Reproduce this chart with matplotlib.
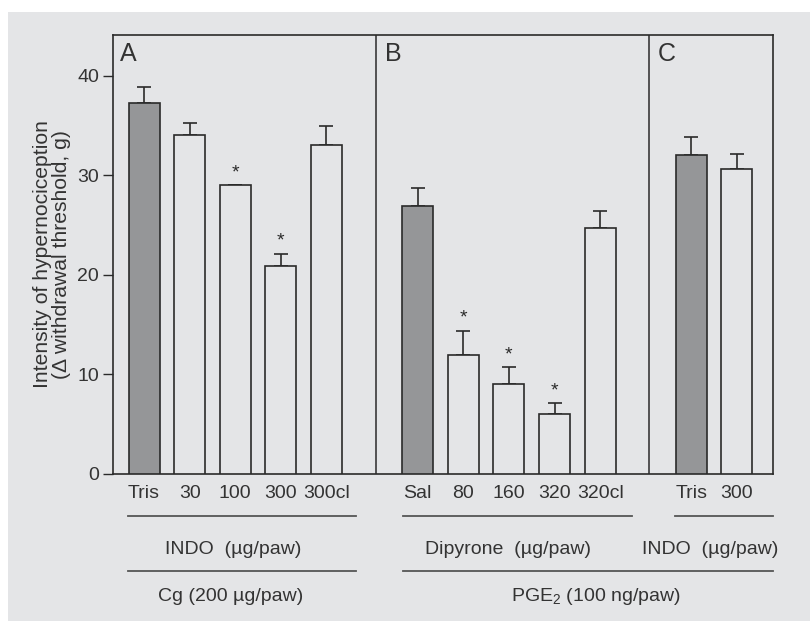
import numpy as np
import matplotlib
matplotlib.use('Agg')
import matplotlib.pyplot as plt
from matplotlib.patches import Rectangle

plt.rcParams['font.family'] = ['Liberation Sans', 'DejaVu Sans']
plt.rcParams['mathtext.fontset'] = 'custom'
plt.rcParams['mathtext.rm'] = 'Liberation Sans'
plt.rcParams['text.color'] = '#333333'

# Datos
etiquetas_a = ['Tris', '30', '100', '300', '300cl']
medias_a = [37.3, 34.1, 29.0, 20.9, 33.1]
errores_a = [1.6, 1.2, 0.0, 1.2, 1.9]
control_a = [True, False, False, False, False]
signif_a = [False, False, True, True, False]

etiquetas_b = ['Sal', '80', '160', '320', '320cl']
medias_b = [26.9, 12.0, 9.0, 6.0, 24.7]
errores_b = [1.8, 2.4, 1.7, 1.1, 1.7]
control_b = [True, False, False, False, False]
signif_b = [False, True, True, True, False]

etiquetas_c = ['Tris', '300']
medias_c = [32.0, 30.6]
errores_c = [1.9, 1.5]
control_c = [True, False]
signif_c = [False, False]

fondo = '#e4e5e7'
gris = '#959698'
negro = '#2a2a2a'

fig = plt.figure(figsize=(8.1, 6.21), dpi=100, facecolor='white')
fig.patches.append(Rectangle((8 / 810, 0), 1, 1 - 12 / 621, transform=fig.transFigure,
                             facecolor=fondo, edgecolor='none', zorder=-10))
ax = fig.add_axes([113 / 810, 147 / 621, 660 / 810, 439 / 621])
ax.set_facecolor(fondo)

pos_a = np.arange(0, 5)
pos_b = np.arange(6, 11)
pos_c = np.arange(12, 14)

posiciones = np.concatenate([pos_a, pos_b, pos_c])
medias = medias_a + medias_b + medias_c
errores = errores_a + errores_b + errores_c
control = control_a + control_b + control_c
signif = signif_a + signif_b + signif_c
etiquetas = etiquetas_a + etiquetas_b + etiquetas_c

colores = [gris if c else fondo for c in control]
ax.bar(posiciones, medias, width=0.68, color=colores, edgecolor=negro, linewidth=1.2, zorder=3)
ax.errorbar(posiciones, medias, yerr=[np.zeros(len(errores)), errores], fmt='none',
            ecolor=negro, elinewidth=1.2, capsize=5, capthick=1.2, zorder=2)

for x, m, e, s in zip(posiciones, medias, errores, signif):
    if s:
        ax.annotate('*', (x, m + e), xytext=(0, 3), textcoords='offset points',
                    ha='center', va='bottom', fontsize=14, color=negro)

ax.set_xlim(-0.68, 13.79)
ax.set_ylim(0, 44.1)
ax.set_yticks([0, 10, 20, 30, 40])
ax.set_xticks(posiciones)
ax.set_xticklabels(etiquetas)
ax.tick_params(axis='x', length=0, pad=8, labelsize=14, labelcolor='#333333')
ax.tick_params(axis='y', length=7, width=1, direction='out', pad=3, labelsize=14,
               labelcolor='#333333', color=negro)
for sp in ax.spines.values():
    sp.set_color(negro)
    sp.set_linewidth(1.2)

# separadores de paneles
for xd in [5.09, 11.07]:
    ax.axvline(xd, color=negro, linewidth=1.1, zorder=1)

tr = ax.get_xaxis_transform()
for letra, xl in zip(['A', 'B', 'C'], [-0.52, 5.28, 11.27]):
    ax.text(xl, 0.985, letra, transform=tr, ha='left', va='top', fontsize=18, color='#333333')

# lineas y textos inferiores
def linea(x0, x1, y):
    ax.plot([x0, x1], [y, y], transform=tr, color='#555555', linewidth=1.3, clip_on=False)

linea(-0.35, 4.65, -0.095)
linea(5.68, 10.69, -0.095)
linea(11.65, 13.78, -0.095)
linea(-0.35, 4.65, -0.22)
linea(5.68, 13.78, -0.22)

ax.text(1.95, -0.173, 'INDO  (µg/paw)', transform=tr, ha='center', va='center', fontsize=14)
ax.text(7.98, -0.173, 'Dipyrone  (µg/paw)', transform=tr, ha='center', va='center', fontsize=14)
ax.text(12.41, -0.173, 'INDO  (µg/paw)', transform=tr, ha='center', va='center', fontsize=14)
ax.text(1.9, -0.278, 'Cg (200 µg/paw)', transform=tr, ha='center', va='center', fontsize=14)
ax.text(9.9, -0.278, 'PGE$_\\mathregular{2}$ (100 ng/paw)', transform=tr, ha='center', va='center', fontsize=14)

ax.set_ylabel('Intensity of hypernociception\n(Δ withdrawal threshold, g)', fontsize=15.2,
              color='#333333', linespacing=1.0)
ax.yaxis.set_label_coords(-0.063, 0.5)

fig.savefig('out.png', dpi=100, facecolor='white')
